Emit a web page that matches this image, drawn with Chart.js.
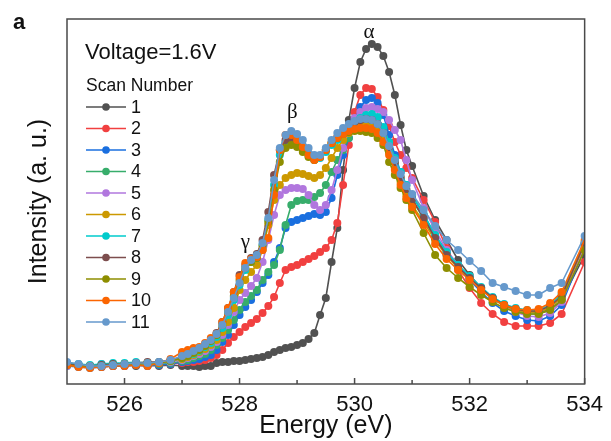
<!DOCTYPE html>
<html lang="en">
<head>
  <meta charset="UTF-8" />
  <title>O K-edge spectra, Voltage=1.6V</title>
  <script src="https://cdn.jsdelivr.net/npm/chart.js"></script>
  <style>
    body { margin: 0; background: #fff; }
    canvas { display: block; }
  </style>
</head>
<body>
  <canvas id="xasChart" width="611" height="441"></canvas>

  <script>
    // Energy grid (eV)
    const energy = [525.0,525.2,525.4,525.6,525.8,526.0,526.2,526.4,526.6,526.8,527.0,
      527.1,527.2,527.3,527.4,527.5,527.6,527.7,527.8,527.9,528.0,528.1,528.2,528.3,528.4,528.5,
      528.6,528.7,528.8,528.9,529.0,529.1,529.2,529.3,529.4,529.5,529.6,529.7,529.8,529.9,530.0,
      530.1,530.2,530.3,530.4,530.5,530.6,530.7,530.8,530.9,531.0,
      531.2,531.4,531.6,531.8,532.0,532.2,532.4,532.6,532.8,533.0,533.2,533.4,533.6,534.0];

    // Intensity (a. u.) for each scan
    const scan1 = [20,18,17,18,18,19,18,19,18,19,18,
      18,18,17,18,18,21,22,22,23,
      23,24,25,26,27,29,32,34,36,37,
      39,41,45,51,69,86,122,156,214,264,
      296,322,335,340,337,328,312,289,259,234,
      218,188,164,144,124,109,96,86,79,74,
      72,72,74,84,129];
    const scan2 = [19,18,17,17,18,18,19,18,19,20,21,
      22,22,23,24,26,29,34,41,47,
      52,57,61,65,71,78,87,101,114,117,
      119,122,125,128,132,136,144,161,199,239,
      272,289,296,295,287,274,258,242,229,216,
      206,184,162,136,114,96,81,70,62,58,
      58,58,61,70,122];
    const scan3 = [18,17,16,17,18,18,19,18,19,20,22,
      23,24,25,27,29,34,42,49,59,
      69,77,84,92,101,109,122,136,156,162,
      164,166,168,170,169,172,186,209,229,246,
      264,277,284,286,281,269,249,229,212,199,
      189,169,149,132,118,104,92,81,73,68,
      64,63,68,79,136];
    const scan4 = [19,18,17,18,19,19,20,19,20,21,23,
      24,26,28,30,34,39,46,54,64,
      74,82,88,94,104,112,119,134,159,179,
      183,184,184,187,191,199,212,224,234,246,
      256,264,268,269,266,256,239,222,206,194,
      184,166,146,130,117,106,96,86,78,73,
      70,70,74,84,138];
    const scan5 = [18,19,18,20,19,20,21,20,21,22,24,
      26,28,30,33,37,42,49,59,72,
      84,91,98,106,122,144,169,189,194,196,
      196,195,189,179,174,179,194,214,236,254,
      266,272,276,277,275,272,264,254,244,224,
      204,176,154,134,119,107,95,86,78,72,
      68,67,71,82,139];
    const scan6 = [19,18,18,19,19,20,20,21,21,23,25,
      27,29,32,35,39,44,52,62,76,
      94,104,112,119,134,159,184,199,206,209,
      211,210,208,206,209,216,226,236,244,251,
      256,259,260,259,256,246,232,216,202,189,
      179,162,144,128,116,106,96,86,78,74,
      72,72,76,87,140];
    const scan7 = [21,20,19,20,21,21,22,21,22,23,26,
      28,30,33,37,41,47,56,69,84,
      99,114,122,126,139,164,199,229,242,244,
      239,234,228,224,226,232,239,244,251,257,
      262,266,269,270,267,257,242,226,212,199,
      189,170,149,132,119,108,97,87,80,76,
      74,74,79,90,142];
    const scan8 = [20,19,18,19,20,20,21,22,22,24,27,
      29,32,35,39,44,51,62,76,92,
      109,119,126,130,144,172,209,234,244,246,
      242,236,230,226,228,234,241,247,253,258,
      262,264,265,264,260,251,237,222,207,195,
      185,166,146,129,117,106,96,86,79,75,
      73,73,78,88,141];
    const scan9 = [19,18,18,18,19,20,20,21,21,23,26,
      28,31,34,38,43,49,59,72,88,
      104,116,122,126,138,162,194,222,236,239,
      237,232,227,224,227,234,241,246,250,252,
      253,253,252,251,246,239,222,209,196,184,
      174,151,129,116,106,97,89,82,76,72,
      70,70,74,84,134];
    const scan10 = [19,17,16,17,18,18,19,18,21,25,32,
      34,36,37,41,46,50,62,76,92,
      107,121,125,127,134,146,189,234,249,249,
      244,237,229,224,227,234,241,246,250,253,
      255,256,256,255,251,242,229,214,199,186,
      177,159,140,125,114,104,94,85,79,75,
      74,75,81,92,144];
    const scan11 = [22,20,18,18,19,20,21,21,22,24,28,
      30,33,36,40,44,50,59,72,86,
      101,116,124,129,141,166,204,236,249,253,
      250,244,236,229,229,236,244,251,256,260,
      263,265,265,264,260,251,238,224,210,198,
      190,174,158,144,134,123,113,101,97,93,
      89,89,96,101,148];

    const scans = [scan1, scan2, scan3, scan4, scan5, scan6, scan7, scan8, scan9, scan10, scan11];
    const scanLabels = ['1','2','3','4','5','6','7','8','9','10','11'];
    const colors = ['#515151','#F14040','#1A6FDF','#37AD6B','#B177DE','#CC9900',
                    '#00CBCC','#7D4E4E','#8E8E00','#FB6501','#6699CC'];

    const majorTicks = [526, 528, 530, 532, 534];
    const minorTicks = [527, 529, 531, 533];

    // peak labels: letter, energy, intensity
    const peakLetters = ['α', 'β', 'γ'];
    const peakEnergy = [530.25, 528.92, 528.1];
    const peakHeight = [352, 272, 142];

    const font = "'Liberation Sans', Arial, sans-serif";

    const decorations = {
      id: 'decorations',
      afterDraw(chart) {
        const { ctx, chartArea: a, scales: { x, y } } = chart;
        ctx.save();

        // frame + inward ticks
        ctx.strokeStyle = '#4a4a4a';
        ctx.lineWidth = 1.5;
        ctx.strokeRect(a.left, a.top, a.right - a.left, a.bottom - a.top);
        ctx.beginPath();
        majorTicks.forEach(v => {
          const px = x.getPixelForValue(v);
          ctx.moveTo(px, a.bottom); ctx.lineTo(px, a.bottom - 6);
        });
        minorTicks.forEach(v => {
          const px = x.getPixelForValue(v);
          ctx.moveTo(px, a.bottom); ctx.lineTo(px, a.bottom - 4);
        });
        ctx.stroke();

        // panel letter
        ctx.fillStyle = '#111';
        ctx.textBaseline = 'middle';
        ctx.textAlign = 'left';
        ctx.font = 'bold 22px ' + font;
        ctx.fillText('a', 13, 23);

        // legend
        ctx.font = '22px ' + font;
        ctx.fillText('Voltage=1.6V', 85, 53);
        ctx.font = '17.5px ' + font;
        ctx.fillText('Scan Number', 86, 86);
        scanLabels.forEach((lab, i) => {
          const ly = 107 + i * 21.5;
          ctx.strokeStyle = colors[i];
          ctx.lineWidth = 1.5;
          ctx.beginPath(); ctx.moveTo(86, ly); ctx.lineTo(126, ly); ctx.stroke();
          ctx.fillStyle = colors[i];
          ctx.beginPath(); ctx.arc(106, ly, 3.8, 0, Math.PI * 2); ctx.fill();
          ctx.fillStyle = '#111';
          ctx.font = '18px ' + font;
          ctx.fillText(lab, 131, ly + 1);
        });

        // greek peak labels
        ctx.textAlign = 'center';
        ctx.font = "21px 'Liberation Serif', 'Times New Roman', serif";
        peakLetters.forEach((g, i) => {
          ctx.fillText(g, x.getPixelForValue(peakEnergy[i]), y.getPixelForValue(peakHeight[i]));
        });
        ctx.restore();
      }
    };

    new Chart(document.getElementById('xasChart'), {
      type: 'line',
      data: {
        datasets: scans.map((s, i) => ({
          label: scanLabels[i],
          data: s.map((v, k) => ({ x: energy[k], y: v })),
          borderColor: colors[i],
          backgroundColor: colors[i],
          pointBackgroundColor: colors[i],
          pointBorderWidth: 0,
          pointRadius: 4,
          borderWidth: 1.6,
          tension: 0,
          order: scans.length - i,
          clip: 0
        }))
      },
      options: {
        responsive: false,
        animation: false,
        layout: { padding: { top: 19, right: 21 } },
        plugins: { legend: { display: false }, tooltip: { enabled: false } },
        scales: {
          x: {
            type: 'linear',
            min: 525,
            max: 534,
            grid: { display: false, drawTicks: false },
            border: { display: false },
            ticks: {
              stepSize: 1,
              autoSkip: false,
              maxRotation: 0,
              padding: 8,
              color: '#111',
              font: { family: font, size: 22 },
              callback: v => (majorTicks.includes(v) ? v : '')
            },
            title: {
              display: true,
              text: 'Energy (eV)',
              color: '#111',
              font: { family: font, size: 25 },
              padding: { top: 0, bottom: 0 }
            },
            afterFit(scale) { scale.height = 57; }
          },
          y: {
            min: 0,
            max: 365,
            grid: { display: false, drawTicks: false },
            border: { display: false },
            ticks: { display: false },
            title: {
              display: true,
              text: 'Intensity (a. u.)',
              color: '#111',
              font: { family: font, size: 25 },
              padding: { top: 24, bottom: 0 }
            },
            afterFit(scale) { scale.width = 67; }
          }
        }
      },
      plugins: [decorations]
    });
  </script>
</body>
</html>
